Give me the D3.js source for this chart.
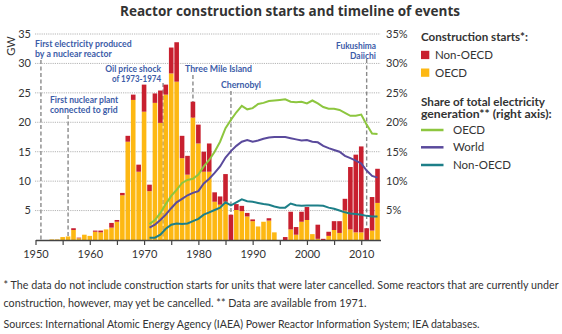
<!DOCTYPE html>
<html>
<head>
<meta charset="utf-8">
<script src="https://cdn.jsdelivr.net/npm/d3@7/dist/d3.min.js"></script>
<style>
  body { margin: 0; background: #fff; }
  svg { font-family: Lato, "Open Sans", sans-serif; }
</style>
</head>
<body>
<svg id="chart" width="562" height="334"></svg>
<script>
// construction starts, GW per year
var years = d3.range(1950, 2014);
var oecdStarts = [
  0, 0, 0, 0.1, 0.1, 0.5, 0.6, 1.7, 0.3, 0.9,
  0.7, 1.4, 1.3, 1.8, 2.1, 3.1, 7.6, 16.7, 23.8, 11.6,
  21.8, 8.3, 23.3, 19.9, 24.7, 28.3, 26.9, 13.9, 11.1, 20.8,
  16.4, 11.6, 11.6, 6.5, 6.0, 6.5, 0, 5.1, 4.9, 4.0,
  3.2, 2.3, 3.1, 3.3, 1.3, 0, 0, 1.8, 0.9, 3.1,
  3.4, 1.0, 0.2, 0, 0.7, 1.7, 1.2, 5.0, 1.8, 1.3,
  1.3, 0, 1.6, 6.3
];
var nonOecdStarts = [
  0, 0, 0, 0, 0, 0, 0, 0.3, 0.1, 0,
  0, 0.2, 0.3, 0, 0.8, 0.3, 0.4, 1.0, 0.9, 1.2,
  4.6, 1.1, 1.6, 5.5, 1.7, 4.4, 6.7, 3.8, 3.2, 2.7,
  3.2, 3.4, 4.8, 1.6, 1.4, 4.7, 4.3, 1.0, 0.9, 0.6,
  0.3, 0, 0, 0.4, 0, 0, 0.5, 3.0, 1.3, 1.7,
  2.2, 0, 2.4, 0.2, 0.7, 1.5, 2.0, 2.0, 10.6, 13.2,
  14.6, 2.0, 5.7, 5.8
];

// share of total electricity generation, %, from 1971
var shareYears = d3.range(1971, 2014);
var shareOecd = [
  2.7, 3.4, 4.6, 6.1, 7.5, 8.5, 9.7, 10.2, 10.4,
  11.1, 12.5, 13.6, 15.0, 16.7, 19.0, 20.4, 21.7, 22.8, 22.2,
  22.4, 23.1, 23.3, 23.6, 23.7, 23.8, 23.9, 23.5, 23.4, 23.5,
  23.2, 23.7, 23.2, 22.6, 22.3, 22.3, 22.1, 21.6, 21.1, 21.1,
  21.3, 19.6, 18.1, 18.0
];
var shareWorld = [
  2.1, 2.6, 3.4, 4.3, 5.4, 6.4, 7.0, 7.6, 8.0,
  8.3, 9.6, 10.4, 11.4, 12.5, 14.0, 15.1, 16.0, 16.7, 17.0,
  16.7, 16.9, 17.2, 17.4, 17.5, 17.5, 17.5, 17.3, 17.1, 16.9,
  17.0, 16.7, 16.6, 16.0, 15.6, 15.3, 15.0, 14.3, 13.9, 13.5,
  13.0, 11.8, 10.9, 10.6
];
var shareNonOecd = [
  0.4, 0.4, 0.9, 1.9, 2.6, 2.8, 2.7, 2.8, 3.2,
  3.6, 4.3, 4.7, 5.1, 5.5, 6.4, 5.9, 6.4, 6.9, 6.6,
  6.5, 6.3, 6.1, 6.0, 5.7, 5.5, 5.5, 6.2, 5.9, 5.8,
  5.85, 5.85, 5.85, 5.8, 5.5, 5.3, 5.0, 4.7, 4.5, 4.4,
  4.3, 4.1, 4.0, 4.0
];

var gwTicks = [5, 10, 15, 20, 25, 30, 35];
var yearTicks = d3.range(1950, 2011, 5);

var eventYears = [1951, 1956, 1973.5, 1979, 1986, 2011];
var eventNames = [
  ["First electricity produced", "by a nuclear reactor"],
  ["First nuclear plant", "connected to grid"],
  ["Oil price shock", "of 1973-1974"],
  ["Three Mile Island"],
  ["Chernobyl"],
  ["Fukushima", "Daiichi"]
];

var colOecd = "#fdb813", colNon = "#c8202f";
var colLineOecd = "#8dc63f", colLineWorld = "#5a4a9c", colLineNon = "#1d7f88";
var colEvent = "#3c5ca8", colText = "#333";

var svg = d3.select("#chart");

var x = d3.scaleLinear().domain([1950, 2013.55]).range([35.5, 380.5]);
var y = d3.scaleLinear().domain([0, 35]).range([240, 34]);
var barW = 4.6;

function fit(sel, w) {
  sel.attr("textLength", w).attr("lengthAdjust", "spacingAndGlyphs");
}

// title
svg.append("text")
  .attr("x", 290).attr("y", 16)
  .attr("text-anchor", "middle")
  .style("font-family", "'Open Sans', sans-serif")
  .style("font-weight", 700).style("font-size", "13.5px")
  .style("fill", colText)
  .text("Reactor construction starts and timeline of events")
  .call(fit, 340);

// grid
svg.append("g").selectAll("line")
  .data(gwTicks).enter().append("line")
  .attr("x1", 35).attr("x2", 380.5)
  .attr("y1", d => y(d)).attr("y2", d => y(d))
  .style("stroke", "#b5b5b5").style("stroke-width", 1)
  .style("stroke-dasharray", "1.2,1");

// left / right labels
svg.append("g").selectAll("text")
  .data(gwTicks).enter().append("text")
  .attr("x", 31).attr("y", d => y(d)).attr("dy", "0.35em")
  .attr("text-anchor", "end")
  .style("font-size", "11px").style("fill", colText)
  .text(d => d);

svg.append("g").selectAll("text")
  .data(gwTicks).enter().append("text")
  .attr("x", 386).attr("y", d => y(d)).attr("dy", "0.35em")
  .style("font-size", "11px").style("fill", colText)
  .text(d => d + "%");

svg.append("text")
  .attr("transform", "translate(15,46) rotate(-90)")
  .attr("text-anchor", "middle")
  .style("font-size", "11px").style("fill", colText)
  .text("GW");

// event dashed lines (behind bars)
var evTop = [60, 115, 83, 75, 91, 59];
svg.append("g").selectAll("line")
  .data(eventYears).enter().append("line")
  .attr("x1", d => x(d)).attr("x2", d => x(d))
  .attr("y1", (d, i) => evTop[i]).attr("y2", y(0))
  .style("stroke", "#8a8a8a").style("stroke-width", 1.4)
  .style("stroke-dasharray", "4,2.5");

// stacked bars
var stack = years.map((yr, i) => ({ year: yr, oecd: oecdStarts[i], non: nonOecdStarts[i] }));
var bars = svg.append("g");
bars.selectAll("rect.oecd")
  .data(stack).enter().append("rect")
  .attr("class", "oecd")
  .attr("x", d => x(d.year) - barW / 2).attr("width", barW)
  .attr("y", d => y(d.oecd)).attr("height", d => y(0) - y(d.oecd))
  .style("fill", colOecd);
bars.selectAll("rect.non")
  .data(stack).enter().append("rect")
  .attr("class", "non")
  .attr("x", d => x(d.year) - barW / 2).attr("width", barW)
  .attr("y", d => y(d.oecd + d.non)).attr("height", d => y(d.oecd) - y(d.oecd + d.non))
  .style("fill", colNon);

// share lines
var line = d3.line().x((d, i) => x(shareYears[i])).y(d => y(d));
[[shareOecd, colLineOecd], [shareWorld, colLineWorld], [shareNonOecd, colLineNon]].forEach(function (s) {
  svg.append("path").datum(s[0])
    .attr("d", line)
    .style("fill", "none").style("stroke", s[1]).style("stroke-width", 2);
});

// x axis
var xAxis = d3.axisBottom(x)
  .tickValues(yearTicks)
  .tickSizeInner(5).tickSizeOuter(0)
  .tickFormat(d => d % 10 === 0 ? d : "");
var gx = svg.append("g").attr("transform", "translate(0," + y(0) + ")").call(xAxis);
gx.select(".domain").style("stroke", "#444").style("stroke-width", 1.3);
gx.selectAll(".tick line").style("stroke", "#444").style("stroke-width", 1.2);
gx.selectAll(".tick text")
  .attr("y", 10)
  .style("font-family", "Lato, sans-serif").style("font-size", "11px").style("fill", colText);

// event labels
var evLayout = [
  { x: 35, y: 44, anchor: "start", w: [96.7, 76.7] },
  { x: 50, y: 100, anchor: "start", w: [68.3, 67.7] },
  { x: 161, y: 69, anchor: "end", w: [55.7, 49] },
  { x: 185, y: 69, anchor: "start", w: [67] },
  { x: 221, y: 85, anchor: "start", w: [40] },
  { x: 376, y: 46, anchor: "end", w: [40, 26] }
];
eventNames.forEach(function (lines, i) {
  var L = evLayout[i];
  lines.forEach(function (t, j) {
    svg.append("text")
      .attr("x", L.x).attr("y", L.y + j * 10).attr("dy", "0.35em")
      .attr("text-anchor", L.anchor)
      .style("font-size", "9.5px").style("font-weight", 700)
      .style("fill", colEvent)
      .text(t)
      .call(fit, L.w[j]);
  });
});

// legend
var lg = svg.append("g");
lg.append("text").attr("x", 421).attr("y", 37.3).attr("dy", "0.35em")
  .style("font-size", "11.5px").style("font-weight", 700).style("fill", colText)
  .text("Construction starts*:").call(fit, 107);
[["Non-OECD", colNon, 55], ["OECD", colOecd, 72.7]].forEach(function (d) {
  lg.append("rect").attr("x", 421).attr("y", d[2] - 4.2).attr("width", 8.3).attr("height", 8.3)
    .style("fill", d[1]);
  lg.append("text").attr("x", 435).attr("y", d[2]).attr("dy", "0.35em")
    .style("font-size", "11.5px").style("fill", colText).text(d[0]);
});
lg.append("text").attr("x", 421).attr("y", 101.7).attr("dy", "0.35em")
  .style("font-size", "11.5px").style("font-weight", 700).style("fill", colText)
  .text("Share of total electricity").call(fit, 124);
lg.append("text").attr("x", 421).attr("y", 114).attr("dy", "0.35em")
  .style("font-size", "11.5px").style("font-weight", 700).style("fill", colText)
  .text("generation** (right axis):").call(fit, 130.7);
[["OECD", colLineOecd, 130], ["World", colLineWorld, 147.3], ["Non-OECD", colLineNon, 165]].forEach(function (d) {
  lg.append("line").attr("x1", 421).attr("x2", 443.5).attr("y1", d[2]).attr("y2", d[2])
    .style("stroke", d[1]).style("stroke-width", 2.5);
  lg.append("text").attr("x", 453).attr("y", d[2]).attr("dy", "0.35em")
    .style("font-size", "11.5px").style("fill", colText).text(d[0]);
});

// footnotes
var notes = [
  ["* The data do not include construction starts for units that were later cancelled. Some reactors that are currently under", 285.5, 555],
  ["construction, however, may yet be cancelled. ** Data are available from 1971.", 303.5, 363],
  ["Sources: International Atomic Energy Agency (IAEA) Power Reactor Information System; IEA databases.", 324, 476]
];
notes.forEach(function (n) {
  svg.append("text").attr("x", 3.6).attr("y", n[1]).attr("dy", "0.35em")
    .style("font-size", "10.5px").style("fill", colText)
    .text(n[0]).call(fit, n[2]);
});
</script>
</body>
</html>
